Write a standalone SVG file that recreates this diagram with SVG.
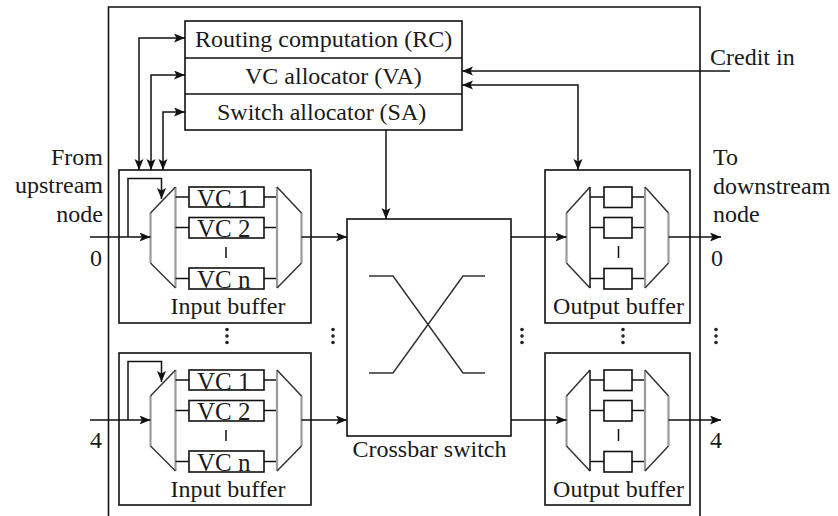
<svg xmlns="http://www.w3.org/2000/svg" width="838" height="516" viewBox="0 0 838 516">
<style>
  text { font-family: "Liberation Serif", "Times New Roman", serif; font-size: 24px; fill: #1a1a1a; }
  .vc { font-size: 25px; }
  .mid { text-anchor: middle; }
  .end { text-anchor: end; }
  .box { fill: none; stroke: #111; stroke-width: 1.6; }
  .ln { fill: none; stroke: #111; stroke-width: 1.5; }
  .gray { fill: none; stroke: #9a9a9a; stroke-width: 2.2; }
  .dk { fill: none; stroke: #333; stroke-width: 1.5; }
  .arr { fill: none; stroke: #111; stroke-width: 1.5; marker-end: url(#ah); }
  .arr2 { fill: none; stroke: #111; stroke-width: 1.5; marker-start: url(#ah); marker-end: url(#ah); }
  .dot { fill: #222; }
</style>
<defs>
  <marker id="ah" markerUnits="userSpaceOnUse" markerWidth="12" markerHeight="10" refX="11" refY="4.5" orient="auto-start-reverse">
    <path d="M0,0 L11,4.5 L0,9 L2.5,4.5 z" fill="#111"/>
  </marker>
</defs>
<rect width="838" height="516" fill="#fff"/>

<g id="router-frame">
  <path class="box" d="M108.5,516 V7 H700 V516"/>
</g>

<g id="allocators">
  <rect class="box" x="185" y="21" width="277" height="109"/>
  <line class="ln" x1="185" y1="58" x2="462" y2="58"/>
  <line class="ln" x1="185" y1="94" x2="462" y2="94"/>
  <text x="195" y="47">Routing computation (RC)</text>
  <text x="245" y="83.5">VC allocator (VA)</text>
  <text x="217" y="119.5">Switch allocator (SA)</text>
</g>

<g id="input-buffer-0">
  <rect class="box" x="119" y="170" width="192" height="153"/>
  <line class="gray" x1="150.5" y1="213" x2="150.5" y2="263"/>
  <line class="gray" x1="175.5" y1="187" x2="175.5" y2="288"/>
  <line class="dk" x1="150.5" y1="213" x2="175.5" y2="187"/>
  <line class="dk" x1="150.5" y1="263" x2="175.5" y2="288"/>
  <path class="ln" d="M175.5,197 H189 M175.5,227.5 H189 M175.5,278.5 H189 M264,197 H277 M264,227.5 H277 M264,278.5 H277"/>
  <rect class="box" x="189" y="187" width="75" height="20"/>
  <rect class="box" x="189" y="217.5" width="75" height="20.5"/>
  <rect class="box" x="189" y="268" width="75" height="21"/>
  <text class="vc" x="197" y="206.5">VC 1</text>
  <text class="vc" x="197" y="237">VC 2</text>
  <text class="vc" x="197" y="288">VC n</text>
  <line class="ln" x1="226" y1="247" x2="226" y2="258"/>
  <line class="gray" x1="277" y1="187" x2="277" y2="288"/>
  <line class="gray" x1="301.5" y1="213" x2="301.5" y2="263"/>
  <line class="dk" x1="277" y1="187" x2="301.5" y2="213"/>
  <line class="dk" x1="277" y1="288" x2="301.5" y2="263"/>
  <text class="mid" x="228" y="314">Input buffer</text>
</g>

<g id="input-buffer-4" transform="translate(0,183)">
  <rect class="box" x="119" y="170" width="192" height="152"/>
  <line class="gray" x1="150.5" y1="213" x2="150.5" y2="263"/>
  <line class="gray" x1="175.5" y1="187" x2="175.5" y2="288"/>
  <line class="dk" x1="150.5" y1="213" x2="175.5" y2="187"/>
  <line class="dk" x1="150.5" y1="263" x2="175.5" y2="288"/>
  <path class="ln" d="M175.5,197 H189 M175.5,227.5 H189 M175.5,278.5 H189 M264,197 H277 M264,227.5 H277 M264,278.5 H277"/>
  <rect class="box" x="189" y="187" width="75" height="20"/>
  <rect class="box" x="189" y="217.5" width="75" height="20.5"/>
  <rect class="box" x="189" y="268" width="75" height="21"/>
  <text class="vc" x="197" y="206.5">VC 1</text>
  <text class="vc" x="197" y="237">VC 2</text>
  <text class="vc" x="197" y="288">VC n</text>
  <line class="ln" x1="226" y1="247" x2="226" y2="258"/>
  <line class="gray" x1="277" y1="187" x2="277" y2="288"/>
  <line class="gray" x1="301.5" y1="213" x2="301.5" y2="263"/>
  <line class="dk" x1="277" y1="187" x2="301.5" y2="213"/>
  <line class="dk" x1="277" y1="288" x2="301.5" y2="263"/>
  <text class="mid" x="228" y="314">Input buffer</text>
</g>

<g id="crossbar">
  <rect class="box" x="347" y="219" width="164" height="217"/>
  <polyline class="dk" points="369,276 393,276 463,373 485,373"/>
  <polyline class="dk" points="369,373 393,373 463,276 485,276"/>
  <text class="mid" x="429.5" y="457">Crossbar switch</text>
</g>

<g id="output-buffer-0">
  <rect class="box" x="545" y="170" width="145" height="153"/>
  <line class="gray" x1="566.5" y1="213" x2="566.5" y2="263"/>
  <line class="dk" x1="566.5" y1="213" x2="590" y2="187"/>
  <line class="dk" x1="566.5" y1="263" x2="590" y2="288"/>
  <line class="ln" x1="590" y1="187" x2="590" y2="288"/>
  <path class="ln" d="M590,197 H604 M590,227.5 H604 M590,278.5 H604 M632,197 H645 M632,227.5 H645 M632,278.5 H645"/>
  <rect class="box" x="604" y="187" width="28" height="20.5"/>
  <rect class="box" x="604" y="217.5" width="28" height="20.5"/>
  <rect class="box" x="604" y="268.5" width="28" height="20.5"/>
  <line class="ln" x1="618.5" y1="246" x2="618.5" y2="258"/>
  <line class="gray" x1="645" y1="187" x2="645" y2="288"/>
  <line class="dk" x1="645" y1="187" x2="668.5" y2="213"/>
  <line class="dk" x1="645" y1="288" x2="668.5" y2="263"/>
  <line class="gray" x1="668.5" y1="213" x2="668.5" y2="263"/>
  <text class="mid" x="618.5" y="314">Output buffer</text>
</g>

<g id="output-buffer-4" transform="translate(0,183)">
  <rect class="box" x="545" y="170" width="145" height="152"/>
  <line class="gray" x1="566.5" y1="213" x2="566.5" y2="263"/>
  <line class="dk" x1="566.5" y1="213" x2="590" y2="187"/>
  <line class="dk" x1="566.5" y1="263" x2="590" y2="288"/>
  <line class="ln" x1="590" y1="187" x2="590" y2="288"/>
  <path class="ln" d="M590,197 H604 M590,227.5 H604 M590,278.5 H604 M632,197 H645 M632,227.5 H645 M632,278.5 H645"/>
  <rect class="box" x="604" y="187" width="28" height="20.5"/>
  <rect class="box" x="604" y="217.5" width="28" height="20.5"/>
  <rect class="box" x="604" y="268.5" width="28" height="20.5"/>
  <line class="ln" x1="618.5" y1="246" x2="618.5" y2="258"/>
  <line class="gray" x1="645" y1="187" x2="645" y2="288"/>
  <line class="dk" x1="645" y1="187" x2="668.5" y2="213"/>
  <line class="dk" x1="645" y1="288" x2="668.5" y2="263"/>
  <line class="gray" x1="668.5" y1="213" x2="668.5" y2="263"/>
  <text class="mid" x="618.5" y="314">Output buffer</text>
</g>

<g id="connectors">
  <polyline class="arr2" points="185,38 139,38 139,170"/>
  <polyline class="arr2" points="185,75 151,75 151,170"/>
  <polyline class="arr2" points="185,112 163,112 163,170"/>
  <line class="arr" x1="730" y1="71" x2="462" y2="71"/>
  <polyline class="arr2" points="462,85 578,85 578,170"/>
  <line class="arr" x1="386" y1="130" x2="386" y2="219"/>
  <line class="arr" x1="90" y1="237" x2="150.5" y2="237"/>
  <polyline class="arr" points="128,237 128,178.5 161.5,178.5 161.5,199"/>
  <line class="arr" x1="301.5" y1="237" x2="347" y2="237"/>
  <line class="arr" x1="90" y1="420" x2="150.5" y2="420"/>
  <polyline class="arr" points="128,420 128,361.5 161.5,361.5 161.5,382"/>
  <line class="arr" x1="301.5" y1="420" x2="347" y2="420"/>
  <line class="arr" x1="511" y1="237" x2="566.5" y2="237"/>
  <line class="arr" x1="511" y1="420" x2="566.5" y2="420"/>
  <line class="arr" x1="668.5" y1="237" x2="721" y2="237"/>
  <line class="arr" x1="668.5" y1="420" x2="721" y2="420"/>
</g>

<g id="ellipses">
  <circle class="dot" cx="227" cy="329.5" r="1.8"/><circle class="dot" cx="227" cy="336" r="1.8"/><circle class="dot" cx="227" cy="342.5" r="1.8"/>
  <circle class="dot" cx="333" cy="329.5" r="1.8"/><circle class="dot" cx="333" cy="336" r="1.8"/><circle class="dot" cx="333" cy="342.5" r="1.8"/>
  <circle class="dot" cx="522" cy="329.5" r="1.8"/><circle class="dot" cx="522" cy="336" r="1.8"/><circle class="dot" cx="522" cy="342.5" r="1.8"/>
  <circle class="dot" cx="623" cy="329.5" r="1.8"/><circle class="dot" cx="623" cy="336" r="1.8"/><circle class="dot" cx="623" cy="342.5" r="1.8"/>
  <circle class="dot" cx="716" cy="329.5" r="1.8"/><circle class="dot" cx="716" cy="336" r="1.8"/><circle class="dot" cx="716" cy="342.5" r="1.8"/>
</g>

<g id="labels">
  <text class="end" x="103" y="165">From</text>
  <text class="end" x="103" y="193">upstream</text>
  <text class="end" x="103" y="222">node</text>
  <text class="end" x="102" y="266">0</text>
  <text class="end" x="102" y="448">4</text>
  <text x="713" y="165">To</text>
  <text x="713" y="194">downstream</text>
  <text x="713" y="222">node</text>
  <text x="711" y="266">0</text>
  <text x="710" y="448">4</text>
  <text x="710" y="65">Credit in</text>
</g>
</svg>
